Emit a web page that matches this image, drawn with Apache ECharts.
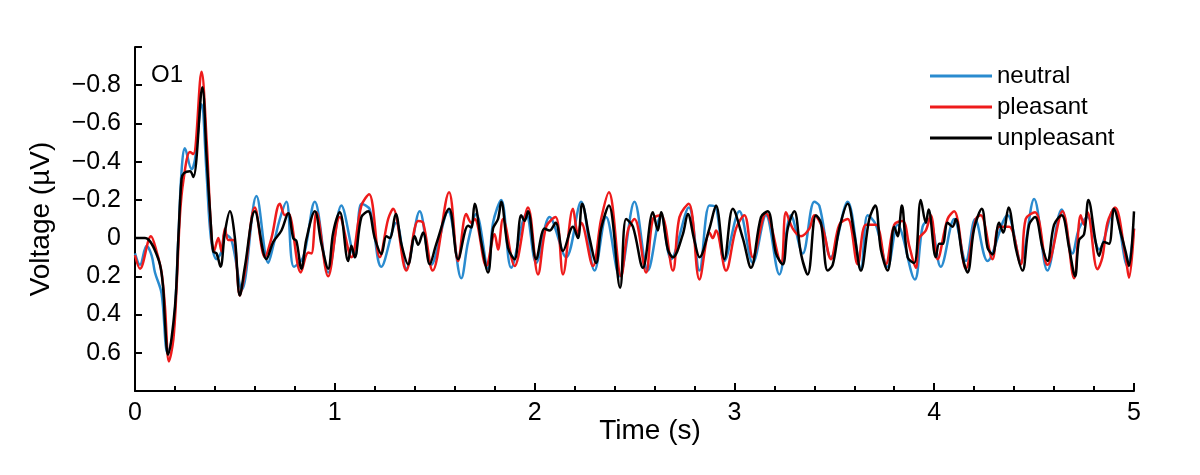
<!DOCTYPE html>
<html>
<head>
<meta charset="utf-8">
<script src="https://cdn.jsdelivr.net/npm/echarts@6/dist/echarts.min.js"></script>
<style>
  html, body { margin: 0; padding: 0; background: #fff; }
  #main { width: 1200px; height: 475px; }
</style>
</head>
<body>
<div id="main"></div>
<script>
// data: [time (s), voltage (uV)]
var seriesNames = ['neutral', 'pleasant', 'unpleasant'];
var xTicks = [0, 1, 2, 3, 4, 5];
var yTicks = [-0.8, -0.6, -0.4, -0.2, 0, 0.2, 0.4, 0.6];

var neutral = [
  [0,0.08],[0.025,0.14],[0.058,0.04],[0.083,0.09],[0.1,0.18],[0.133,0.29],[0.163,0.6],[0.192,0.49],
  [0.217,0.0],[0.233,-0.35],[0.25,-0.47],[0.283,-0.36],[0.3,-0.41],[0.333,-0.7],[0.358,-0.34],[0.38,0.0],
  [0.408,0.11],[0.433,0.07],[0.45,-0.02],[0.483,0.01],[0.535,0.27],[0.608,-0.22],[0.667,0.13],[0.692,0.04],
  [0.725,-0.1],[0.758,-0.19],[0.795,0.15],[0.842,0.1],[0.9,-0.19],[0.967,0.18],[1.033,-0.17],[1.1,0.1],
  [1.133,-0.18],[1.175,-0.15],[1.233,0.15],[1.308,-0.08],[1.358,0.16],[1.425,-0.14],[1.483,0.14],[1.567,-0.14],
  [1.633,0.21],[1.667,0.02],[1.708,-0.126],[1.767,0.16],[1.792,-0.08],[1.833,-0.2],[1.883,0.155],[1.958,-0.126],
  [2.008,0.13],[2.075,-0.11],[2.158,0.1],[2.233,-0.19],[2.3,0.17],[2.358,-0.11],[2.425,0.2],[2.5,-0.19],
  [2.567,0.17],[2.633,-0.12],[2.683,0.11],[2.772,-0.16],[2.825,0.17],[2.875,-0.17],[2.908,-0.16],[2.95,0.12],
  [3.025,-0.14],[3.092,0.13],[3.158,-0.12],[3.225,0.19],[3.283,-0.12],[3.342,0.08],[3.4,-0.19],[3.425,-0.17],
  [3.483,0.1],[3.567,-0.19],[3.633,0.16],[3.667,-0.12],[3.708,-0.07],[3.767,0.15],[3.817,-0.07],[3.903,0.216],
  [3.942,-0.06],[3.975,-0.1],[4.033,0.15],[4.1,-0.1],[4.158,0.12],[4.205,-0.1],[4.267,0.12],[4.367,-0.12],
  [4.433,0.12],[4.5,-0.205],[4.567,0.17],[4.638,-0.15],[4.692,0.08],[4.725,-0.05],[4.767,-0.11],[4.825,0.058],
  [4.9,-0.153],[4.967,0.146],[5.0,-0.05]
];

var pleasant = [
  [0,0.09],[0.025,0.16],[0.08,-0.01],[0.108,0.07],[0.133,0.18],[0.15,0.36],[0.17,0.645],[0.192,0.53],
  [0.208,0.26],[0.225,-0.12],[0.242,-0.3],[0.275,-0.45],[0.292,-0.44],[0.333,-0.87],[0.358,-0.52],[0.38,-0.06],
  [0.395,0.07],[0.417,0.0],[0.433,0.07],[0.45,-0.05],[0.467,0.01],[0.492,0.01],[0.525,0.3],[0.55,0.18],
  [0.6,-0.16],[0.65,0.1],[0.683,0.0],[0.725,-0.18],[0.75,-0.12],[0.767,-0.13],[0.83,0.18],[0.867,0.075],
  [0.883,0.08],[0.908,-0.135],[0.967,0.2],[1.025,-0.11],[1.083,0.1],[1.133,-0.17],[1.172,-0.23],[1.225,0.1],
  [1.267,-0.1],[1.292,-0.153],[1.358,0.17],[1.417,-0.09],[1.442,-0.08],[1.49,0.17],[1.572,-0.24],[1.617,0.12],
  [1.658,-0.126],[1.683,-0.08],[1.7,-0.1],[1.758,0.146],[1.8,-0.02],[1.817,0.06],[1.842,-0.1],[1.9,0.146],
  [1.967,-0.16],[2.017,0.19],[2.058,-0.06],[2.105,-0.11],[2.142,0.19],[2.192,-0.153],[2.217,-0.02],[2.233,-0.08],
  [2.292,0.146],[2.333,-0.1],[2.372,-0.24],[2.433,0.2],[2.467,-0.04],[2.5,-0.1],[2.558,0.18],[2.592,-0.1],
  [2.633,-0.12],[2.692,0.17],[2.725,-0.11],[2.772,-0.18],[2.825,0.216],[2.875,-0.03],[2.892,0.0],[2.908,-0.04],
  [2.958,0.17],[3.008,-0.05],[3.05,-0.12],[3.092,0.1],[3.158,-0.13],[3.233,0.128],[3.258,-0.135],[3.292,-0.05],
  [3.333,-0.01],[3.375,-0.05],[3.4,-0.12],[3.442,-0.05],[3.483,0.11],[3.525,-0.07],[3.567,-0.1],[3.617,0.137],
  [3.658,-0.07],[3.708,-0.07],[3.758,0.137],[3.8,-0.07],[3.842,-0.09],[3.875,0.04],[3.908,0.155],[3.925,0.0],
  [3.958,-0.04],[3.983,-0.12],[4.017,0.11],[4.067,-0.1],[4.1,-0.14],[4.158,0.16],[4.208,-0.1],[4.233,-0.12],
  [4.292,0.11],[4.325,-0.06],[4.375,-0.06],[4.433,0.137],[4.458,-0.1],[4.505,-0.135],[4.567,0.14],[4.642,-0.14],
  [4.7,0.21],[4.733,-0.12],[4.75,-0.07],[4.767,-0.135],[4.817,0.163],[4.842,0.1],[4.867,-0.08],[4.905,-0.16],
  [4.958,0.1],[4.975,0.207],[5.0,-0.05]
];

var unpleasant = [
  [0,0],[0.05,0],[0.117,0.11],[0.14,0.25],[0.15,0.44],[0.165,0.61],[0.2,0.36],[0.217,0.0],
  [0.233,-0.31],[0.245,-0.34],[0.275,-0.35],[0.292,-0.32],[0.337,-0.79],[0.358,-0.43],[0.38,-0.065],[0.392,0.07],
  [0.408,0.08],[0.428,0.15],[0.45,-0.03],[0.475,-0.14],[0.5,0.0],[0.525,0.3],[0.55,0.15],[0.6,-0.14],
  [0.658,0.11],[0.692,0.02],[0.733,-0.04],[0.767,-0.13],[0.792,0.0],[0.808,0.015],[0.833,0.16],[0.858,0.005],
  [0.9,-0.14],[0.933,0.03],[0.967,0.16],[0.992,-0.03],[1.025,-0.135],[1.067,0.12],[1.083,0.04],[1.1,0.1],
  [1.133,-0.11],[1.167,-0.14],[1.2,0.0],[1.233,0.084],[1.258,-0.01],[1.275,0.0],[1.305,-0.126],[1.333,0.03],
  [1.367,0.137],[1.4,-0.01],[1.417,0.035],[1.442,-0.03],[1.475,0.137],[1.508,0.03],[1.572,-0.153],[1.617,0.11],
  [1.667,-0.065],[1.683,-0.055],[1.7,-0.18],[1.733,0.02],[1.767,0.18],[1.792,-0.05],[1.817,-0.1],[1.833,-0.19],
  [1.867,0.05],[1.9,0.11],[1.933,-0.12],[1.95,-0.09],[1.967,-0.14],[2.008,0.11],[2.05,-0.05],[2.075,-0.04],
  [2.105,-0.08],[2.142,0.067],[2.192,-0.06],[2.217,0.0],[2.238,-0.18],[2.275,0.0],[2.308,0.13],[2.333,-0.05],
  [2.372,-0.17],[2.428,0.26],[2.458,-0.1],[2.492,-0.06],[2.542,0.155],[2.592,-0.135],[2.617,-0.04],[2.633,-0.135],
  [2.667,0.06],[2.692,0.1],[2.742,-0.02],[2.767,-0.126],[2.8,0.014],[2.825,0.1],[2.875,-0.05],[2.908,-0.17],
  [2.95,0.11],[2.992,-0.153],[3.042,0.0],[3.083,0.155],[3.133,-0.11],[3.167,-0.14],[3.208,0.08],[3.242,0.137],
  [3.267,-0.05],[3.3,-0.14],[3.333,0.08],[3.367,0.19],[3.408,-0.12],[3.433,-0.08],[3.467,0.17],[3.492,0.14],
  [3.525,-0.05],[3.567,-0.18],[3.6,-0.02],[3.633,0.17],[3.675,-0.1],[3.705,-0.17],[3.733,0.06],[3.767,0.17],
  [3.8,-0.06],[3.817,-0.01],[3.838,-0.17],[3.867,0.1],[3.9,0.13],[3.933,-0.2],[3.958,-0.08],[3.972,-0.15],
  [4.008,0.1],[4.025,0.03],[4.042,0.03],[4.067,-0.08],[4.092,-0.06],[4.108,-0.1],[4.142,0.1],[4.167,0.18],
  [4.2,-0.05],[4.238,-0.153],[4.267,0.05],[4.292,0.084],[4.325,-0.08],[4.345,-0.03],[4.372,-0.16],[4.408,0.05],
  [4.442,0.17],[4.475,-0.07],[4.505,-0.11],[4.542,0.05],[4.567,0.12],[4.6,-0.07],[4.638,-0.12],[4.675,0.05],
  [4.705,0.2],[4.725,0.01],[4.75,-0.02],[4.772,-0.2],[4.808,0.02],[4.825,0.093],[4.85,0.02],[4.875,0.03],
  [4.9,-0.153],[4.933,-0.03],[4.958,0.07],[4.975,0.146],[5.0,-0.14]
];

var colors = ['#2a8bcf', '#ee1b1b', '#000000'];
var font = 'Liberation Sans, Arial, sans-serif';

function fmtY(v) {
    var r = Math.round(v * 10) / 10;
    // only the labelled ticks
    if (yTicks.indexOf(r) < 0) return '';
    if (r === 0) return '0';
    return (r < 0 ? '\u2212' : '') + Math.abs(r).toFixed(1);
}

function makeLine(name, data, color) {
    return {
        name: name,
        type: 'line',
        data: data,
        smooth: 0.35,
        symbol: 'none',
        lineStyle: { color: color, width: 2.5 },
        itemStyle: { color: color },
        animation: false
    };
}

var myChart = echarts.init(document.getElementById('main'));
var option = {
    backgroundColor: '#fff',
    grid: { left: 135, right: 66, top: 47, bottom: 84 },
    legend: {
        orient: 'vertical',
        left: 925,
        top: 59,
        itemWidth: 62,
        itemHeight: 22,
        itemGap: 7,
        data: seriesNames.map(function (n, i) {
            return { name: n, icon: 'path://M0,9.5 L62,9.5 L62,12.5 L0,12.5 Z', itemStyle: { color: colors[i] } };
        }),
        textStyle: { fontFamily: font, fontSize: 24, color: '#000', padding: [0, 0, 0, 0] }
    },
    xAxis: {
        type: 'value',
        min: xTicks[0],
        max: xTicks[xTicks.length - 1],
        interval: 1,
        name: 'Time (s)',
        nameLocation: 'middle',
        nameGap: 26,
        nameMoveOverlap: false,
        nameTextStyle: { fontFamily: font, fontSize: 28, color: '#000', padding: [0, 0, 0, 31] },
        axisLine: { onZero: false, lineStyle: { color: '#000', width: 2 } },
        axisTick: { inside: true, length: 8, lineStyle: { color: '#000', width: 2 } },
        minorTick: { show: true, splitNumber: 5, length: 5, lineStyle: { color: '#000', width: 2 } },
        axisLabel: { fontFamily: font, fontSize: 25, color: '#000', margin: 10 },
        splitLine: { show: false }
    },
    yAxis: {
        type: 'value',
        inverse: true,
        min: -1,
        max: 0.8,
        interval: 0.2,
        name: 'Voltage (\u00b5V)',
        nameLocation: 'middle',
        nameGap: 80,
        nameMoveOverlap: false,
        nameTextStyle: { fontFamily: font, fontSize: 28, color: '#000' },
        axisLine: { onZero: false, lineStyle: { color: '#000', width: 2 } },
        axisTick: { inside: true, length: 7, lineStyle: { color: '#000', width: 2 } },
        axisLabel: { fontFamily: font, fontSize: 25, color: '#000', margin: 14, formatter: fmtY },
        splitLine: { show: false }
    },
    graphic: [{
        type: 'text',
        left: 151,
        top: 63,
        style: { text: 'O1', fontFamily: font, fontSize: 24, fill: '#000' }
    }],
    series: [
        makeLine(seriesNames[0], neutral, colors[0]),
        makeLine(seriesNames[1], pleasant, colors[1]),
        makeLine(seriesNames[2], unpleasant, colors[2])
    ]
};
myChart.setOption(option);
</script>
</body>
</html>
